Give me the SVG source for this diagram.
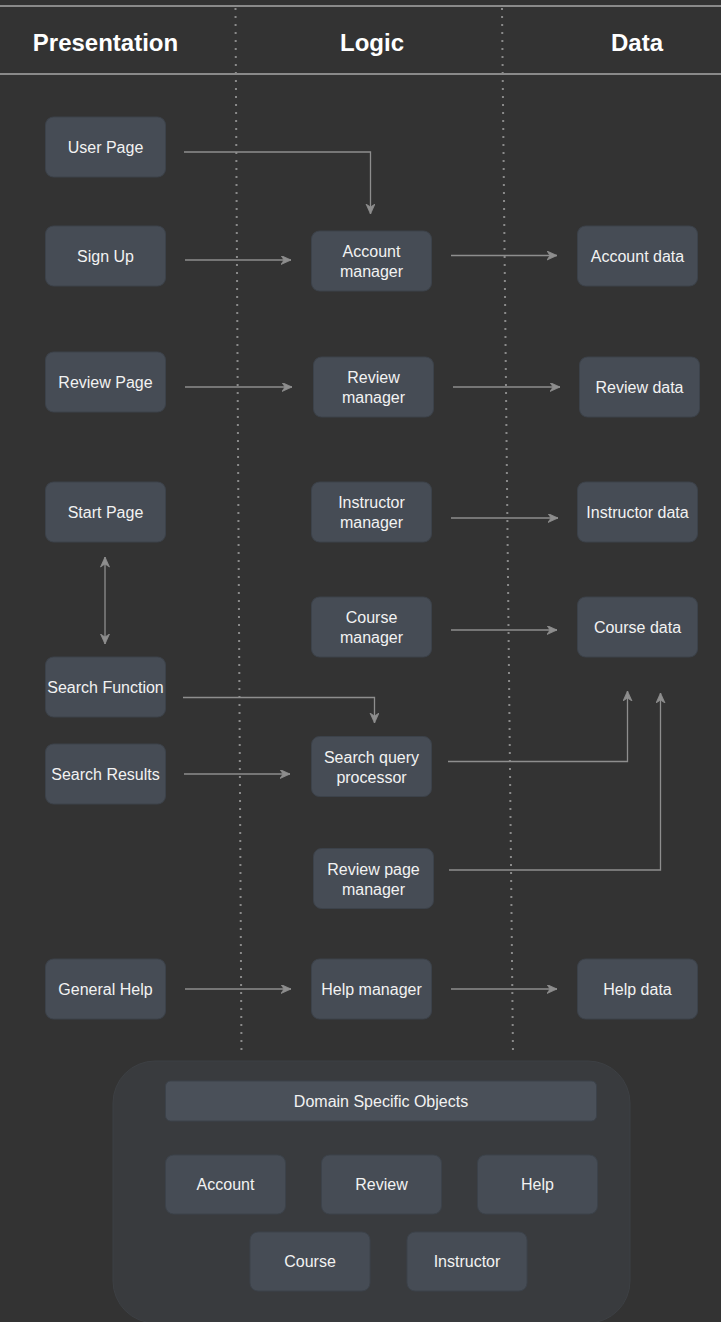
<svg xmlns="http://www.w3.org/2000/svg" width="721" height="1322" viewBox="0 0 721 1322">
<defs>
<style>
.n rect{fill:#464c55;stroke:#3c424a;stroke-width:1}
.n text,.d text{font-family:"Liberation Sans",Arial,sans-serif;font-size:16px;fill:#f2f2f2;text-anchor:middle}
.h{font-family:"Liberation Sans",Arial,sans-serif;font-size:24px;font-weight:bold;fill:#ffffff;text-anchor:middle}
.c path{fill:none;stroke:#8e8e8e;stroke-width:1.3}
.dot{stroke:#8a8a8a;stroke-width:2;stroke-dasharray:2 6;fill:none}
</style>
<marker id="ar" markerWidth="12" markerHeight="10" refX="10" refY="4.5" orient="auto" markerUnits="userSpaceOnUse">
<path d="M0,0 L10,4.5 L0,9 L3,4.5 Z" fill="#8e8e8e" stroke="#8e8e8e" stroke-width="0.8"/>
</marker>
<marker id="as" markerWidth="12" markerHeight="10" refX="0" refY="4.5" orient="auto" markerUnits="userSpaceOnUse">
<path d="M10,0 L0,4.5 L10,9 L7,4.5 Z" fill="#8e8e8e" stroke="#8e8e8e" stroke-width="0.8"/>
</marker>
</defs>
<rect x="0" y="0" width="721" height="1322" fill="#333333"/>
<g id="header">
<line x1="0" y1="6" x2="721" y2="6" stroke="#8a8a8a" stroke-width="2"/>
<line x1="0" y1="74" x2="721" y2="74" stroke="#8a8a8a" stroke-width="2"/>
<text class="h" x="105.5" y="51">Presentation</text>
<text class="h" x="372" y="51">Logic</text>
<text class="h" x="637" y="51">Data</text>
</g>
<g id="lanes">
<line class="dot" x1="235.5" y1="8" x2="241.5" y2="1055"/>
<line class="dot" x1="502" y1="8" x2="513" y2="1055"/>
</g>
<g id="domain">
<rect x="113" y="1061" width="517" height="262" rx="42" fill="#393b3e" stroke="#3d4044"/>
<g class="n" id="dso"><rect x="165.5" y="1081" width="431" height="40" rx="5" style="fill:#4a5059"/><text x="381" y="1106.5">Domain Specific Objects</text></g>
<g class="n" id="o-account"><rect x="165.5" y="1155" width="120" height="59" rx="8"/><text x="225.5" y="1189.5">Account</text></g>
<g class="n" id="o-review"><rect x="321.5" y="1155" width="120" height="59" rx="8"/><text x="381.5" y="1189.5">Review</text></g>
<g class="n" id="o-help"><rect x="477.5" y="1155" width="120" height="59" rx="8"/><text x="537.5" y="1189.5">Help</text></g>
<g class="n" id="o-course"><rect x="250" y="1232" width="120" height="59" rx="8"/><text x="310" y="1266.5">Course</text></g>
<g class="n" id="o-instructor"><rect x="407" y="1232" width="120" height="59" rx="8"/><text x="467" y="1266.5">Instructor</text></g>
</g>
<g id="connectors" class="c">
<path d="M184,152 H370.5 V214" marker-end="url(#ar)"/>
<path d="M185,260 H291" marker-end="url(#ar)"/>
<path d="M451,255.5 H557" marker-end="url(#ar)"/>
<path d="M185,387 H292" marker-end="url(#ar)"/>
<path d="M453,387 H560" marker-end="url(#ar)"/>
<path d="M451,518 H558" marker-end="url(#ar)"/>
<path d="M451,630 H557" marker-end="url(#ar)"/>
<path d="M105,557 V644" marker-start="url(#as)" marker-end="url(#ar)"/>
<path d="M183,697.5 H374.5 V723" marker-end="url(#ar)"/>
<path d="M184,774 H290" marker-end="url(#ar)"/>
<path d="M448,761.5 H627.5 V691" marker-end="url(#ar)"/>
<path d="M449,870 H660.5 V693" marker-end="url(#ar)"/>
<path d="M185,989 H291" marker-end="url(#ar)"/>
<path d="M451,989 H557" marker-end="url(#ar)"/>
</g>
<g class="n" id="user-page"><rect x="45.5" y="117" width="120" height="60" rx="8"/><text x="105.5" y="152.5">User Page</text></g>
<g class="n" id="sign-up"><rect x="45.5" y="226" width="120" height="60" rx="8"/><text x="105.5" y="261.5">Sign Up</text></g>
<g class="n" id="review-page"><rect x="45.5" y="352" width="120" height="60" rx="8"/><text x="105.5" y="387.5">Review Page</text></g>
<g class="n" id="start-page"><rect x="45.5" y="482" width="120" height="60" rx="8"/><text x="105.5" y="517.5">Start Page</text></g>
<g class="n" id="search-function"><rect x="45.5" y="657" width="120" height="60" rx="8"/><text x="105.5" y="692.5">Search Function</text></g>
<g class="n" id="search-results"><rect x="45.5" y="744" width="120" height="60" rx="8"/><text x="105.5" y="779.5">Search Results</text></g>
<g class="n" id="general-help"><rect x="45.5" y="959" width="120" height="60" rx="8"/><text x="105.5" y="994.5">General Help</text></g>
<g class="n" id="account-manager"><rect x="311.5" y="231" width="120" height="60" rx="8"/><text x="371.5" y="257">Account</text><text x="371.5" y="277">manager</text></g>
<g class="n" id="review-manager"><rect x="313.5" y="357" width="120" height="60" rx="8"/><text x="373.5" y="383">Review</text><text x="373.5" y="403">manager</text></g>
<g class="n" id="instructor-manager"><rect x="311.5" y="482" width="120" height="60" rx="8"/><text x="371.5" y="508">Instructor</text><text x="371.5" y="528">manager</text></g>
<g class="n" id="course-manager"><rect x="311.5" y="597" width="120" height="60" rx="8"/><text x="371.5" y="623">Course</text><text x="371.5" y="643">manager</text></g>
<g class="n" id="search-query-processor"><rect x="311.5" y="736.5" width="120" height="60" rx="8"/><text x="371.5" y="762.5">Search query</text><text x="371.5" y="782.5">processor</text></g>
<g class="n" id="review-page-manager"><rect x="313.5" y="848.5" width="120" height="60" rx="8"/><text x="373.5" y="874.5">Review page</text><text x="373.5" y="894.5">manager</text></g>
<g class="n" id="help-manager"><rect x="311.5" y="959" width="120" height="60" rx="8"/><text x="371.5" y="994.5">Help manager</text></g>
<g class="n" id="account-data"><rect x="577.5" y="226" width="120" height="60" rx="8"/><text x="637.5" y="261.5">Account data</text></g>
<g class="n" id="review-data"><rect x="579.5" y="357" width="120" height="60" rx="8"/><text x="639.5" y="392.5">Review data</text></g>
<g class="n" id="instructor-data"><rect x="577.5" y="482" width="120" height="60" rx="8"/><text x="637.5" y="517.5">Instructor data</text></g>
<g class="n" id="course-data"><rect x="577.5" y="597" width="120" height="60" rx="8"/><text x="637.5" y="632.5">Course data</text></g>
<g class="n" id="help-data"><rect x="577.5" y="959" width="120" height="60" rx="8"/><text x="637.5" y="994.5">Help data</text></g>
</svg>
